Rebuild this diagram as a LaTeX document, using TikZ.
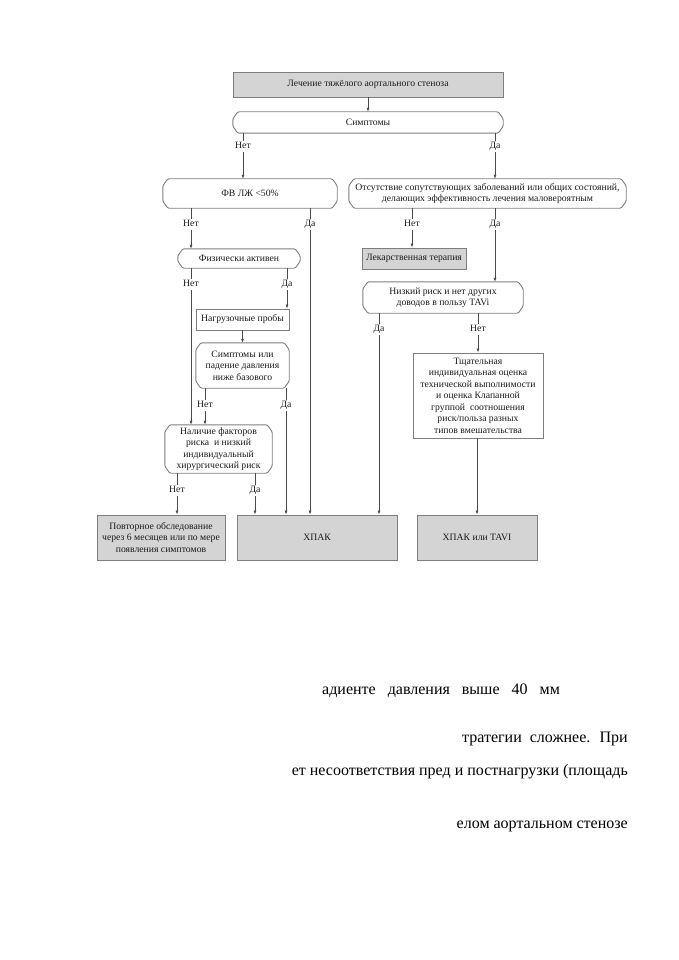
\documentclass[tikz,border=0pt]{standalone}
\usepackage{fontspec}
\setmainfont{Liberation Serif}
\usetikzlibrary{calc,arrows.meta}
\definecolor{boxfill}{HTML}{D4D4D4}
\definecolor{boxline}{HTML}{7E7E7E}
\definecolor{conn}{HTML}{4A4A4A}
\definecolor{txt}{HTML}{1A1A1A}
\tikzset{
  base/.style={text=txt, inner sep=1pt, align=center,
    font=\fontsize{9.7}{11.5}\selectfont},
  rectbox/.style={base, rectangle, draw=boxline, line width=0.9pt},
  graybox/.style={rectbox, fill=boxfill},
  decbox/.style={base, rectangle},
  outline/.style={draw=boxline, line width=0.9pt, rounded corners=1.2pt},
  lbl/.style={inner sep=2pt, text=txt, text height=7pt, text depth=1.5pt, font=\fontsize{9.7}{11}\selectfont},
  ln/.style={draw=conn, line width=0.7pt},
  arr/.style={ln, -{Latex[length=4pt,width=3pt]}},
  para/.style={inner sep=0pt, text=black, font=\fontsize{16}{18}\selectfont},
}
\newcommand\chamfbox[1]{%
  \draw[outline] ($(#1.north west)+(5,0)$) -- ($(#1.north east)+(-5,0)$)
    -- ($(#1.north east)+(0,7)$) -- ($(#1.south east)+(0,-7)$)
    -- ($(#1.south east)+(-5,0)$) -- ($(#1.south west)+(5,0)$)
    -- ($(#1.south west)+(0,-7)$) -- ($(#1.north west)+(0,7)$) -- cycle;}
\begin{document}
\begin{tikzpicture}[x=1pt,y=-1pt]
\useasboundingbox (0,0) rectangle (678,960);
% boxes
\node[graybox, minimum width=270, minimum height=25] (title) at (368,84.5) {Лечение тяжёлого аортального стеноза};
\node[decbox, minimum width=270, minimum height=21] (sympt) at (368,122.5) {Симптомы};
\node[decbox, minimum width=174, minimum height=29] (fv) at (250,193.5) {ФВ ЛЖ <50\%};
\node[decbox, minimum width=277, minimum height=29] (absent) at (487.5,193.5) {Отсутствие сопутствующих заболеваний или общих состояний,\\делающих эффективность лечения маловероятным};
\node[decbox, minimum width=122, minimum height=19] (phys) at (239,258.5) {Физически активен};
\node[graybox, minimum width=104, minimum height=21] (drug) at (414,258.5) {Лекарственная терапия};
\node[decbox, minimum width=160, minimum height=31] (low) at (443,297.5) {Низкий риск и нет других\\доводов в пользу TAVi};
\node[rectbox, minimum width=93, minimum height=21] (load) at (242.5,319.5) {Нагрузочные пробы};
\node[decbox, minimum width=93, minimum height=45] (symp2) at (242.5,365.5) {Симптомы или\\падение давления\\ниже базового};
\node[decbox, minimum width=107, minimum height=48] (nal) at (218.5,449) {Наличие факторов\\риска \ и низкий\\индивидуальный\\хирургический риск};
\node[rectbox, minimum width=130, minimum height=85] (thor) at (478,395.5) {Тщательная\\индивидуальная оценка\\технической выполнимости\\и оценка Клапанной\\группой \ соотношения\\риск/польза разных\\типов вмешательства};
\node[graybox, minimum width=128, minimum height=45] (rep) at (161,537.5) {Повторное обследование\\через 6 месяцев или по мере\\появления симптомов};
\node[graybox, minimum width=160, minimum height=45] (hpak) at (317,537.5) {ХПАК};
\node[graybox, minimum width=120, minimum height=45] (hpt) at (477,537.5) {ХПАК или TAVI};
\foreach \b in {sympt,fv,absent,phys,low,symp2,nal}{\chamfbox{\b}}
% labels
\node[lbl] (n1) at (243,146) {Нет};
\node[lbl] (d1) at (495,146) {Да};
\node[lbl] (n2) at (191,224) {Нет};
\node[lbl] (d2) at (310,224) {Да};
\node[lbl] (n3) at (412,224) {Нет};
\node[lbl] (d3) at (495,224) {Да};
\node[lbl] (n4) at (191,284) {Нет};
\node[lbl] (d4) at (287,284) {Да};
\node[lbl] (n5) at (205,405) {Нет};
\node[lbl] (d5) at (286,405) {Да};
\node[lbl] (n6) at (177,490) {Нет};
\node[lbl] (d6) at (255,490) {Да};
\node[lbl] (d7) at (379,329) {Да};
\node[lbl] (n7) at (478,329) {Нет};
% connectors
\draw[arr] (title) -- (sympt);
\foreach \l/\b in {n1/sympt,d1/sympt,n2/fv,d2/fv,n3/absent,d3/absent,n4/phys,d4/phys,n5/symp2,d5/symp2,n6/nal,d6/nal,d7/low,n7/low}{
  \draw[ln] (\b.south -| \l.north) -- ([yshift=-1pt]\l.north);
}
\draw[arr] (n1.south) -- (n1.south |- fv.north);
\draw[arr] (d1.south) -- (d1.south |- absent.north);
\draw[arr] (n2.south) -- (n2.south |- phys.north);
\draw[arr] (d2.south) -- (d2.south |- hpak.north);
\draw[arr] (n3.south) -- (n3.south |- drug.north);
\draw[arr] (d3.south) -- (d3.south |- low.north);
\draw[arr] (n4.south) -- (n4.south |- nal.north);
\draw[arr] (d4.south) -- (d4.south |- load.north);
\draw[arr] (load) -- (symp2);
\draw[arr] (n5.south) -- (n5.south |- nal.north);
\draw[arr] (d5.south) -- (d5.south |- hpak.north);
\draw[arr] (n6.south) -- (n6.south |- rep.north);
\draw[arr] (d6.south) -- (d6.south |- hpak.north);
\draw[arr] (d7.south) -- (d7.south |- hpak.north);
\draw[arr] (n7.south) -- (n7.south |- thor.north);
\draw[arr] (thor.south -| hpt.north) -- (hpt.north);
% paragraph fragments
\node[para, anchor=base west] (p1) at (322,694) {адиенте \ \ давления \ \ выше \ \ 40 \ \ мм};
\node[para, anchor=base east] (p2) at (628,742) {тратегии \ сложнее. \ При};
\node[para, anchor=base east] (p3) at (628,775) {ет несоответствия пред и постнагрузки (площадь};
\node[para, anchor=base east] (p4) at (628,828) {елом аортальном стенозе};
\end{tikzpicture}
\end{document}
